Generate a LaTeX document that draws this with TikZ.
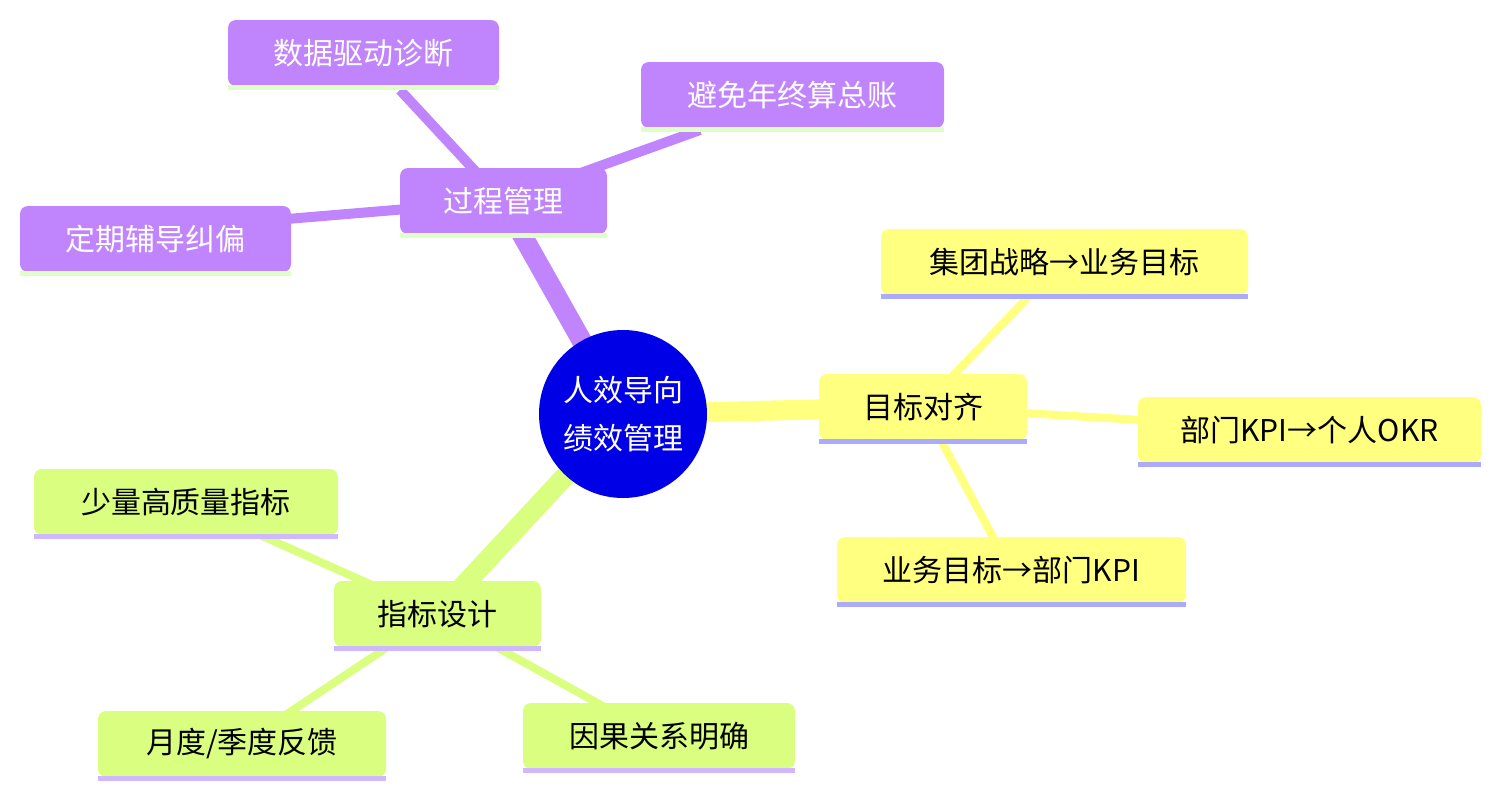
\documentclass[tikz,border=0pt]{standalone}
\usepackage{fontspec}
\setmainfont{Noto Sans CJK SC}
\definecolor{pur}{HTML}{C084FC}
\definecolor{yel}{HTML}{FFFF80}
\definecolor{grn}{HTML}{DAFF80}
\definecolor{lil}{HTML}{AAAAFF}
\definecolor{lil2}{HTML}{D0B8FF}
\definecolor{ulg}{HTML}{E0FFC8}
\definecolor{cblue}{HTML}{0000E6}
\tikzset{
 lbl/.style={font=\fontsize{15}{18}\selectfont,inner sep=0pt},
 edge/.style={line cap=round}
}
% name, x1, y1, x2, y2, fill, underline, textcolor, text
\newcommand{\mmbox}[9]{%
 \fill[#6,rounded corners=4pt] (#2,#3) rectangle (#4,#5);
 \fill[#7] (#2,#5-1) rectangle (#4,#5+4);
 \node[lbl,text=#8] (#1) at ({(#2+#4)/2},{(#3+#5)/2}) {#9};
}
\begin{document}
\begin{tikzpicture}[x=0.5pt,y=-0.5pt]
\useasboundingbox (0,0) rectangle (1501,798);
% edges
\draw[pur,line width=10pt] (623,414) -- (503,201);
\draw[yel,line width=10pt] (623,414) -- (923,407);
\draw[grn,line width=10pt] (623,414) -- (437,614);
\draw[pur,line width=5pt] (503,201) -- (400,90);
\draw[pur,line width=5pt] (503,201) -- (700,130);
\draw[pur,line width=5pt] (503,201) -- (155,230);
\draw[yel,line width=4pt] (923,407) -- (1030,295);
\draw[yel,line width=4pt] (923,407) -- (1309,430);
\draw[yel,line width=4pt] (923,407) -- (1000,550);
\draw[grn,line width=4pt] (437,614) -- (260,535);
\draw[grn,line width=4pt] (437,614) -- (242,744);
\draw[grn,line width=4pt] (437,614) -- (610,710);
% center
\node[circle,fill=cblue,minimum size=84pt,inner sep=0pt,text=white,align=center,
 font=\fontsize{15}{24}\selectfont] (c) at (623,414) {人效导向\\绩效管理};
% boxes
\mmbox{p}{400}{168}{607}{234}{pur}{ulg}{white}{过程管理}
\mmbox{p1}{228}{20}{499}{86}{pur}{ulg}{white}{数据驱动诊断}
\mmbox{p2}{641}{62}{944}{128}{pur}{ulg}{white}{避免年终算总账}
\mmbox{p3}{20}{206}{291}{272}{pur}{ulg}{white}{定期辅导纠偏}
\mmbox{y}{819}{374}{1027}{440}{yel}{lil}{black}{目标对齐}
\mmbox{y1}{881}{229}{1248}{295}{yel}{lil}{black}{集团战略→业务目标}
\mmbox{y2}{1138}{397}{1481}{463}{yel}{lil}{black}{部门KPI→个人OKR}
\mmbox{y3}{837}{537}{1186}{603}{yel}{lil}{black}{业务目标→部门KPI}
\mmbox{g}{334}{581}{541}{647}{grn}{lil2}{black}{指标设计}
\mmbox{g1}{34}{469}{338}{535}{grn}{lil2}{black}{少量高质量指标}
\mmbox{g2}{98}{711}{386}{777}{grn}{lil2}{black}{月度/季度反馈}
\mmbox{g3}{523}{703}{795}{769}{grn}{lil2}{black}{因果关系明确}
\end{tikzpicture}
\end{document}
